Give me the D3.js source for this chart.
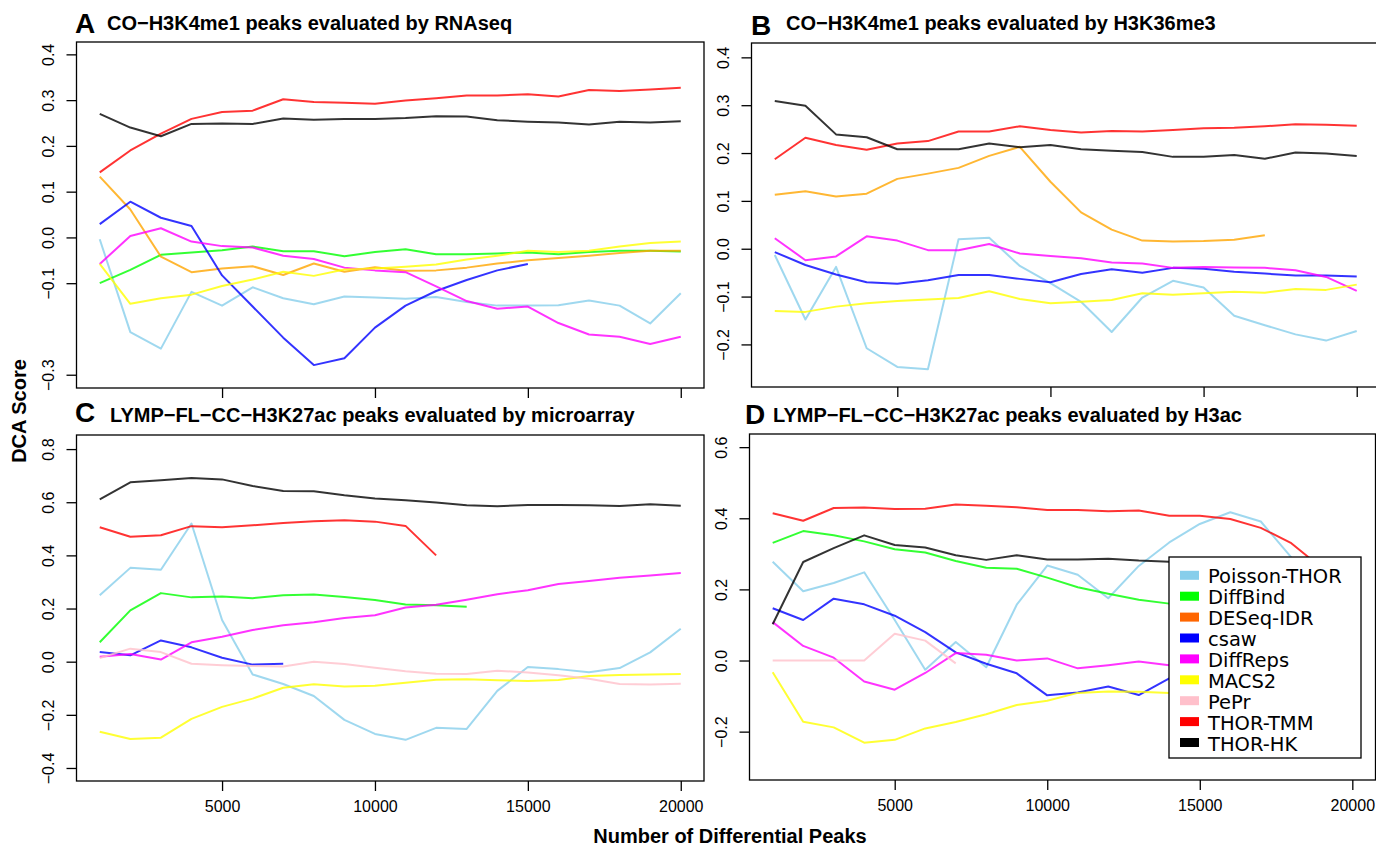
<!DOCTYPE html>
<meta charset="utf-8">

<style>
body { margin: 0; background: #fff; }
svg { display: block; font-family: "Liberation Sans", Arial, sans-serif; }

/* plot frames and series lines */
.frame { fill: none; stroke: #000; stroke-width: 1.3; }
.series { fill: none; stroke-width: 2; stroke-opacity: 0.8; stroke-linejoin: round; }

.axis line, .axis path { stroke: #000; stroke-width: 1.3; }
.axis text { font-family: "Liberation Sans", Arial, sans-serif; font-size: 16px; fill: #000; }

.letter { font-size: 28px; font-weight: bold; }
.title { font-size: 20px; font-weight: bold; }
.axis-title { font-size: 20px; font-weight: bold; }

.legend text { font-family: "DejaVu Sans", sans-serif; font-size: 19.5px; }
</style>
<svg width="1376" height="847"></svg>
<script src="https://d3js.org/d3.v7.min.js"></script>
<script>

var peaks = [1000, 2000, 3000, 4000, 5000, 6000, 7000, 8000, 9000, 10000,
             11000, 12000, 13000, 14000, 15000, 16000, 17000, 18000, 19000, 20000];

var methods = ["Poisson-THOR", "DiffBind", "DESeq-IDR", "csaw", "DiffReps",
               "MACS2", "PePr", "THOR-TMM", "THOR-HK"];
var lineColors = ["#87ceeb", "#00ff00", "#ffa500", "#0000ff", "#ff00ff",
                  "#ffff00", "#ffc0cb", "#ff0000", "#000000"];
var legendColors = ["#87ceeb", "#00ff00", "#ff6600", "#0000ff", "#ff00ff",
                    "#ffff00", "#ffc0cb", "#ff0000", "#000000"];

var xTicks = [5000, 10000, 15000, 20000];

/* A: CO-H3K4me1 / RNAseq */
var aPoisson  = [-0.004, -0.207, -0.243, -0.119, -0.149, -0.109, -0.133, -0.146, -0.129, -0.131, -0.134, -0.130, -0.141, -0.149, -0.149, -0.148, -0.138, -0.149, -0.188, -0.122];
var aDiffBind = [-0.100, -0.071, -0.038, -0.033, -0.028, -0.020, -0.030, -0.030, -0.041, -0.032, -0.026, -0.037, -0.037, -0.035, -0.033, -0.037, -0.032, -0.029, -0.029, -0.031];
var aDESeq    = [0.133, 0.061, -0.042, -0.076, -0.068, -0.063, -0.082, -0.057, -0.075, -0.065, -0.073, -0.072, -0.066, -0.057, -0.050, -0.045, -0.040, -0.034, -0.029, -0.029];
var aCsaw     = [0.029, 0.078, 0.043, 0.025, -0.083, -0.151, -0.219, -0.279, -0.264, -0.197, -0.149, -0.117, -0.093, -0.072, -0.058];
var aDiffReps = [-0.058, 0.003, 0.020, -0.009, -0.019, -0.022, -0.040, -0.047, -0.066, -0.072, -0.076, -0.107, -0.139, -0.156, -0.151, -0.187, -0.212, -0.217, -0.233, -0.217];
var aMACS2    = [-0.058, -0.145, -0.133, -0.125, -0.106, -0.092, -0.075, -0.084, -0.070, -0.068, -0.064, -0.059, -0.048, -0.040, -0.029, -0.032, -0.029, -0.020, -0.012, -0.009];
var aTMM      = [0.142, 0.190, 0.227, 0.259, 0.274, 0.277, 0.302, 0.296, 0.294, 0.292, 0.299, 0.304, 0.310, 0.310, 0.313, 0.308, 0.322, 0.320, 0.323, 0.327];
var aHK       = [0.270, 0.240, 0.221, 0.248, 0.249, 0.248, 0.260, 0.257, 0.259, 0.259, 0.261, 0.265, 0.264, 0.256, 0.253, 0.251, 0.247, 0.253, 0.251, 0.254];
var aTicks    = [-0.3, -0.1, 0, 0.1, 0.2, 0.3, 0.4];

/* B: CO-H3K4me1 / H3K36me3 */
var bPoisson  = [-0.013, -0.148, -0.038, -0.208, -0.247, -0.252, 0.020, 0.023, -0.036, -0.072, -0.111, -0.174, -0.102, -0.067, -0.081, -0.140, -0.160, -0.179, -0.192, -0.172];
var bDESeq    = [0.113, 0.120, 0.109, 0.115, 0.146, 0.157, 0.169, 0.194, 0.213, 0.140, 0.076, 0.040, 0.017, 0.015, 0.016, 0.019, 0.028];
var bCsaw     = [-0.007, -0.034, -0.054, -0.070, -0.073, -0.066, -0.055, -0.055, -0.063, -0.070, -0.053, -0.043, -0.050, -0.040, -0.042, -0.048, -0.052, -0.056, -0.056, -0.058];
var bDiffReps = [0.022, -0.024, -0.016, 0.026, 0.017, -0.003, -0.003, 0.010, -0.010, -0.015, -0.020, -0.029, -0.031, -0.040, -0.038, -0.039, -0.040, -0.045, -0.059, -0.088];
var bMACS2    = [-0.130, -0.132, -0.121, -0.114, -0.109, -0.106, -0.103, -0.089, -0.105, -0.114, -0.111, -0.107, -0.093, -0.096, -0.093, -0.090, -0.092, -0.084, -0.086, -0.075];
var bTMM      = [0.187, 0.232, 0.217, 0.207, 0.220, 0.225, 0.245, 0.245, 0.256, 0.248, 0.243, 0.246, 0.245, 0.248, 0.252, 0.253, 0.256, 0.260, 0.259, 0.257];
var bHK       = [0.309, 0.299, 0.239, 0.233, 0.208, 0.208, 0.208, 0.220, 0.212, 0.217, 0.208, 0.205, 0.202, 0.192, 0.192, 0.196, 0.188, 0.201, 0.199, 0.194];
var bTicks    = [-0.2, -0.1, 0, 0.1, 0.2, 0.3, 0.4];

/* C: LYMP-FL-CC-H3K27ac / microarray */
var cPoisson  = [0.250, 0.353, 0.346, 0.520, 0.157, -0.048, -0.084, -0.129, -0.219, -0.272, -0.294, -0.249, -0.253, -0.110, -0.020, -0.028, -0.040, -0.024, 0.035, 0.124];
var cDiffBind = [0.073, 0.193, 0.258, 0.242, 0.245, 0.239, 0.250, 0.253, 0.243, 0.232, 0.215, 0.212, 0.207];
var cCsaw     = [0.036, 0.024, 0.080, 0.054, 0.015, -0.011, -0.008];
var cDiffReps = [0.019, 0.029, 0.008, 0.073, 0.094, 0.119, 0.137, 0.148, 0.164, 0.175, 0.204, 0.214, 0.233, 0.254, 0.269, 0.292, 0.304, 0.316, 0.324, 0.334];
var cMACS2    = [-0.264, -0.291, -0.286, -0.215, -0.170, -0.139, -0.098, -0.085, -0.093, -0.091, -0.079, -0.068, -0.066, -0.070, -0.073, -0.069, -0.054, -0.050, -0.048, -0.046];
var cPePr     = [0.014, 0.049, 0.036, -0.008, -0.013, -0.016, -0.018, 0.000, -0.009, -0.023, -0.036, -0.045, -0.046, -0.034, -0.041, -0.051, -0.064, -0.084, -0.086, -0.083];
var cTMM      = [0.506, 0.470, 0.476, 0.510, 0.506, 0.513, 0.522, 0.528, 0.532, 0.527, 0.511, 0.400];
var cHK       = [0.611, 0.675, 0.683, 0.691, 0.686, 0.661, 0.642, 0.641, 0.626, 0.614, 0.607, 0.599, 0.589, 0.585, 0.590, 0.590, 0.589, 0.586, 0.592, 0.587];
var cTicks    = [-0.4, -0.2, 0, 0.2, 0.4, 0.6, 0.8];

/* D: LYMP-FL-CC-H3K27ac / H3ac (right part sits under the legend) */
var dPoisson  = [0.278, 0.195, 0.218, 0.248, 0.114, -0.026, 0.052, -0.019, 0.157, 0.267, 0.241, 0.175, 0.266, 0.332, 0.384, 0.417, 0.391, 0.290, 0.200, 0.150];
var dDiffBind = [0.331, 0.364, 0.352, 0.335, 0.313, 0.304, 0.280, 0.261, 0.258, 0.233, 0.206, 0.188, 0.171, 0.160, 0.150, 0.140, 0.130, 0.120, 0.115, 0.110];
var dCsaw     = [0.147, 0.114, 0.174, 0.158, 0.126, 0.080, 0.023, -0.009, -0.036, -0.098, -0.090, -0.073, -0.097, -0.050, -0.030, -0.020, -0.010, 0.000, 0.010, 0.020];
var dDiffReps = [0.108, 0.041, 0.008, -0.059, -0.082, -0.035, 0.021, 0.016, 0.000, 0.006, -0.022, -0.013, -0.003, -0.013, -0.015, -0.020, -0.020, -0.025, -0.030, -0.030];
var dMACS2    = [-0.033, -0.172, -0.188, -0.231, -0.223, -0.191, -0.173, -0.151, -0.125, -0.113, -0.091, -0.087, -0.088, -0.091, -0.090, -0.088, -0.085, -0.083, -0.080, -0.080];
var dPePr     = [0.000, 0.000, 0.000, 0.000, 0.075, 0.056, -0.008];
var dTMM      = [0.414, 0.393, 0.429, 0.430, 0.426, 0.427, 0.439, 0.435, 0.431, 0.423, 0.423, 0.420, 0.422, 0.407, 0.407, 0.398, 0.373, 0.330, 0.260, 0.230];
var dHK       = [0.102, 0.277, 0.316, 0.352, 0.325, 0.318, 0.296, 0.283, 0.296, 0.284, 0.284, 0.286, 0.281, 0.278, 0.275, 0.272, 0.270, 0.268, 0.266, 0.265];
var dTicks    = [-0.2, 0, 0.2, 0.4, 0.6];

var svg = d3.select("svg");

/* panel layout: pixel box + y domain that the box spans */
var panels = [
  {letter: "A", title: "CO\u2212H3K4me1 peaks evaluated by RNAseq",
   box: {left: 76.5, right: 704, top: 42, bottom: 388}, yDomain: [-0.329, 0.427], yTicks: aTicks,
   letterPos: [75, 33], titlePos: [107, 30], xLabels: false,
   series: [aPoisson, aDiffBind, aDESeq, aCsaw, aDiffReps, aMACS2, null, aTMM, aHK]},
  {letter: "B", title: "CO\u2212H3K4me1 peaks evaluated by H3K36me3",
   box: {left: 751.5, right: 1380, top: 43, bottom: 387}, yDomain: [-0.289, 0.430], yTicks: bTicks,
   letterPos: [751, 35], titlePos: [786, 30], xLabels: false,
   series: [bPoisson, null, bDESeq, bCsaw, bDiffReps, bMACS2, null, bTMM, bHK]},
  {letter: "C", title: "LYMP\u2212FL\u2212CC\u2212H3K27ac peaks evaluated by microarray",
   box: {left: 76.5, right: 704, top: 435, bottom: 781}, yDomain: [-0.449, 0.853], yTicks: cTicks,
   letterPos: [75, 422], titlePos: [110, 422], xLabels: true,
   series: [cPoisson, cDiffBind, null, cCsaw, cDiffReps, cMACS2, cPePr, cTMM, cHK]},
  {letter: "D", title: "LYMP\u2212FL\u2212CC\u2212H3K27ac peaks evaluated by H3ac",
   box: {left: 749.5, right: 1375.5, top: 434, bottom: 780}, yDomain: [-0.336, 0.637], yTicks: dTicks,
   letterPos: [745, 424], titlePos: [773, 422], xLabels: true,
   series: [dPoisson, dDiffBind, null, dCsaw, dDiffReps, dMACS2, dPePr, dTMM, dHK]}
];

panels.forEach(function(p) {
  var b = p.box;
  var x = d3.scaleLinear().domain([240, 20760]).range([b.left, b.right]);
  var y = d3.scaleLinear().domain(p.yDomain).range([b.bottom, b.top]);

  var g = svg.append("g");

  var line = d3.line()
      .x(function(d, i) { return x(peaks[i]); })
      .y(function(d) { return y(d); });

  p.series.forEach(function(vals, i) {
    if (!vals) return;
    g.append("path")
        .attr("class", "series")
        .attr("stroke", lineColors[i])
        .attr("d", line(vals));
  });

  /* y axis with R-style vertical labels */
  var ya = g.append("g")
      .attr("class", "axis")
      .attr("transform", "translate(" + b.left + ",0)")
      .call(d3.axisLeft(y).tickValues(p.yTicks).tickSize(10).tickSizeOuter(0)
              .tickFormat(d3.format(".1f")));
  ya.attr("font-size", null).attr("font-family", null);
  ya.select(".domain").remove();
  ya.selectAll("text")
      .attr("x", null).attr("dy", null)
      .attr("text-anchor", "middle")
      .attr("transform", "translate(-23,0) rotate(-90)");

  var xa = g.append("g")
      .attr("class", "axis")
      .attr("transform", "translate(0," + b.bottom + ")")
      .call(d3.axisBottom(x).tickValues(xTicks).tickSize(10).tickSizeOuter(0).tickPadding(10)
              .tickFormat(p.xLabels ? d3.format("d") : ""));
  xa.attr("font-size", null).attr("font-family", null);
  xa.select(".domain").remove();

  g.append("rect")
      .attr("class", "frame")
      .attr("x", b.left).attr("y", b.top)
      .attr("width", b.right - b.left).attr("height", b.bottom - b.top);

  g.append("text")
      .attr("class", "letter")
      .attr("x", p.letterPos[0]).attr("y", p.letterPos[1])
      .text(p.letter);

  g.append("text")
      .attr("class", "title")
      .attr("x", p.titlePos[0]).attr("y", p.titlePos[1])
      .text(p.title);
});

/* shared axis titles */
svg.append("text")
    .attr("class", "axis-title")
    .attr("text-anchor", "middle")
    .attr("transform", "translate(26,411) rotate(-90)")
    .text("DCA Score");

svg.append("text")
    .attr("class", "axis-title")
    .attr("text-anchor", "middle")
    .attr("x", 730).attr("y", 843)
    .text("Number of Differential Peaks");

/* legend, sits on top of panel D */
var legend = svg.append("g").attr("class", "legend");

legend.append("rect")
    .attr("x", 1169).attr("y", 557)
    .attr("width", 192).attr("height", 201)
    .attr("fill", "#fff").attr("stroke", "#000").attr("stroke-width", 1.3);

var item = legend.selectAll(".item")
    .data(methods)
  .enter().append("g")
    .attr("class", "item")
    .attr("transform", function(d, i) { return "translate(0," + (575.3 + i * 20.9) + ")"; });

item.append("rect")
    .attr("x", 1180).attr("y", -4.5)
    .attr("width", 19).attr("height", 9)
    .attr("fill", function(d, i) { return legendColors[i]; });

item.append("text")
    .attr("x", 1208).attr("y", 8)
    .text(function(d) { return d; });

</script>
